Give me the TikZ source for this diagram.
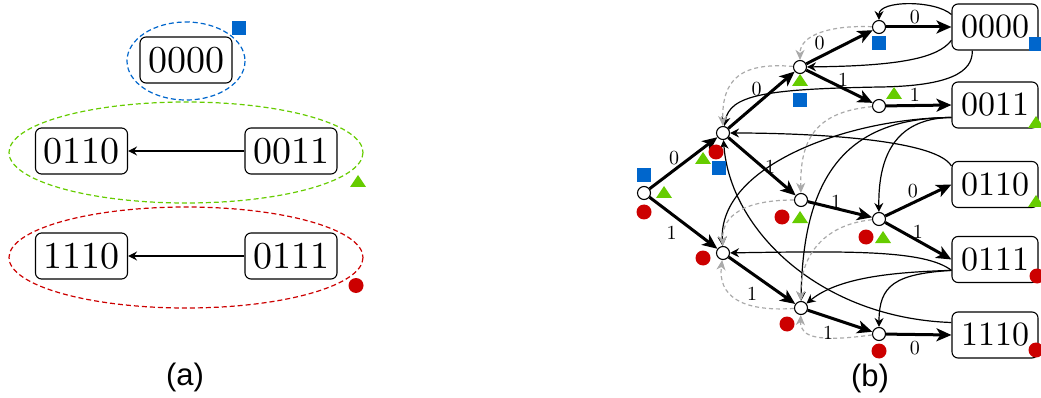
\documentclass[tikz,border=0pt]{standalone}
\usepackage{fontspec}
\setmainfont{lmroman10-regular}[Extension=.otf]
\setsansfont{Liberation Sans}
\usetikzlibrary{arrows.meta}
\definecolor{mblue}{HTML}{0066CC}
\definecolor{mgreen}{HTML}{66CC00}
\definecolor{mred}{HTML}{CC0000}
\definecolor{lgray}{HTML}{AAAAAA}
\begin{document}
\begin{tikzpicture}[x=1pt,y=-1pt,
  boxa/.style={draw, rounded corners=6pt, line width=1.1pt, minimum width=92pt, minimum height=46pt, inner sep=0pt, font=\fontsize{38}{40}\selectfont},
  boxb/.style={draw, rounded corners=6pt, line width=1.1pt, fill=white, minimum width=86pt, minimum height=46pt, inner sep=0pt, font=\fontsize{34}{36}\selectfont},
  st/.style={circle, draw, fill=white, line width=1.1pt, minimum size=13pt, inner sep=0pt},
  tedge/.style={line width=3pt, -{Stealth[length=15pt,width=13pt,inset=4pt]}},
  sedge/.style={line width=1.2pt, -{Stealth[length=9pt,width=9pt,inset=3pt]}},
  dedge/.style={line width=1.2pt, lgray, dash pattern=on 4pt off 3pt, -{Stealth[length=10pt,width=9pt,inset=3pt]}},
  aedge/.style={line width=1.2pt, -{Stealth[length=9pt,width=9pt,inset=3pt]}},
  ell/.style={line width=1.2pt, dash pattern=on 5pt off 3pt},
  lbl/.style={font=\fontsize{20}{22}\selectfont, inner sep=0pt},
  msq/.pic={\fill[mblue] (-7,-7) rectangle (7,7);},
  mtri/.pic={\fill[mgreen] (-8,6) -- (8,6) -- (0,-6) -- cycle;},
  mdot/.pic={\fill[mred] (0,0) circle[radius=7.5];}
]
\useasboundingbox (0,0) rectangle (1041,398);

% ---------------- (a) ----------------
\node[boxa] (A0000) at (186,60) {0000};
\node[boxa] (A0110) at (81.5,151) {0110};
\node[boxa] (A0011) at (291,151) {0011};
\node[boxa] (A1110) at (81.5,256) {1110};
\node[boxa] (A0111) at (291,256) {0111};
\draw[aedge] (A0011) -- (A0110);
\draw[aedge] (A0111) -- (A1110);
\draw[ell, mblue] (186,61) ellipse [x radius=59, y radius=39];
\draw[ell, mgreen] (186,152.5) ellipse [x radius=177, y radius=50.5];
\draw[ell, mred] (186,257.5) ellipse [x radius=177, y radius=50.5];
\pic at (238.5,28) {msq};
\pic at (358,181) {mtri};
\pic at (356,285.5) {mdot};
\node[font=\fontsize{31}{36}\sffamily] (capa) at (185,377) {(a)};

% ---------------- (b) ----------------
\node[st] (r) at (644,193) {};
\node[st] (a0) at (723,133) {};
\node[st] (a1) at (723,253) {};
\node[st] (b00) at (800,67) {};
\node[st] (b01) at (801,200) {};
\node[st] (b11) at (801,308) {};
\node[st] (c000) at (879,27) {};
\node[st] (c001) at (879,106) {};
\node[st] (c011) at (879,219) {};
\node[st] (c111) at (879,334) {};

\node[boxb] (L0000) at (995,27) {0000};
\node[boxb] (L0011) at (995,105) {0011};
\node[boxb] (L0110) at (995,184.5) {0110};
\node[boxb] (L0111) at (995,259.5) {0111};
\node[boxb] (L1110) at (995,335) {1110};

% thin back links
\draw[sedge] (L0000.164) .. controls (935,0) and (879,0) .. (c000);
\draw[sedge] (L0000.197) .. controls (938,58) and (900,66) .. (b00);
\draw[sedge] (L0000.226) .. controls (973,72) and (950,86) .. (880,87) .. controls (765,89) and (730,95) .. (a0);
\draw[sedge] (L0110.157) .. controls (935,138) and (800,133) .. (a0);
\draw[sedge] (L0011.196) .. controls (850,118) and (718,165) .. (a1);
\draw[sedge] (L0011.196) .. controls (860,118) and (803,160) .. (b11);
\draw[sedge] (L0011.196) .. controls (900,118) and (878,150) .. (c011);
\draw[sedge] (L0111.194) .. controls (925,250) and (850,251) .. (a1);
\draw[sedge] (L0111.194) .. controls (900,272) and (840,276) .. (b11);
\draw[sedge] (L0111.194) .. controls (895,274) and (879,285) .. (c111);
\draw[sedge] (L1110.164) .. controls (820,318) and (730,230) .. (a0);

% gray dashed links
\draw[dedge] (c000) .. controls (830,25) and (800,35) .. (b00);
\draw[dedge] (b00) .. controls (740,62) and (722,80) .. (a0);
\draw[dedge] (c001) .. controls (815,112) and (800,140) .. (b01);
\draw[dedge] (b01) .. controls (745,200) and (722,215) .. (a1);
\draw[dedge] (c011) .. controls (820,225) and (800,260) .. (b11);
\draw[dedge] (b11) .. controls (740,312) and (718,295) .. (a1);
\draw[dedge] (c111) .. controls (820,342) and (800,338) .. (b11);

% thick tree edges
\draw[tedge] (r) -- node[lbl, shift={(-9.5,-5)}] (e1) {0} (a0);
\draw[tedge] (r) -- node[lbl, shift={(-12,10)}] (e2) {1} (a1);
\draw[tedge] (a0) -- node[lbl, shift={(-5,-11)}] (e3) {0} (b00);
\draw[tedge] (a0) -- node[lbl, shift={(8,0)}] (e4) {1} (b01);
\draw[tedge] (b00) -- node[lbl, shift={(-20,-4)}] (e5) {0} (c000);
\draw[tedge] (b00) -- node[lbl, shift={(3.5,-6.5)}] (e6) {1} (c001);
\draw[tedge] (c000) -- node[lbl, shift={(-4,-10)}] (e7) {0} (L0000.west);
\draw[tedge] (c001) -- node[lbl, shift={(-4,-11)}] (e8) {1} (L0011.west);
\draw[tedge] (b01) -- node[lbl, shift={(-4,-8)}] (e9) {1} (c011);
\draw[tedge] (c011) -- node[lbl, shift={(-5.5,-9)}] (e10) {0} (L0110.west);
\draw[tedge] (c011) -- node[lbl, shift={(-0.5,-9)}] (e11) {1} (L0111.west);
\draw[tedge] (a1) -- node[lbl, shift={(-10,13)}] (e12) {1} (b11);
\draw[tedge] (b11) -- node[lbl, shift={(-12,12)}] (e13) {1} (c111);
\draw[tedge] (c111) -- node[lbl, shift={(-4,14)}] (e14) {0} (L1110.west);

% markers
\pic at (644,175) {msq};
\pic at (664,192) {mtri};
\pic at (644,212) {mdot};
\pic at (716,152) {mdot};
\pic at (703,158) {mtri};
\pic at (719,168) {msq};
\pic at (800,80) {mtri};
\pic at (800,100) {msq};
\pic at (879,43) {msq};
\pic at (894,93) {mtri};
\pic at (782,217) {mdot};
\pic at (800,217) {mtri};
\pic at (866,237) {mdot};
\pic at (883,237) {mtri};
\pic at (703,258) {mdot};
\pic at (787,324) {mdot};
\pic at (879,351) {mdot};
\pic at (1036,44) {msq};
\pic at (1036,122) {mtri};
\pic at (1036,201) {mtri};
\pic at (1037,276) {mdot};
\pic at (1036,350) {mdot};

\node[font=\fontsize{31}{36}\sffamily] (capb) at (870,378) {(b)};
\end{tikzpicture}
\end{document}
